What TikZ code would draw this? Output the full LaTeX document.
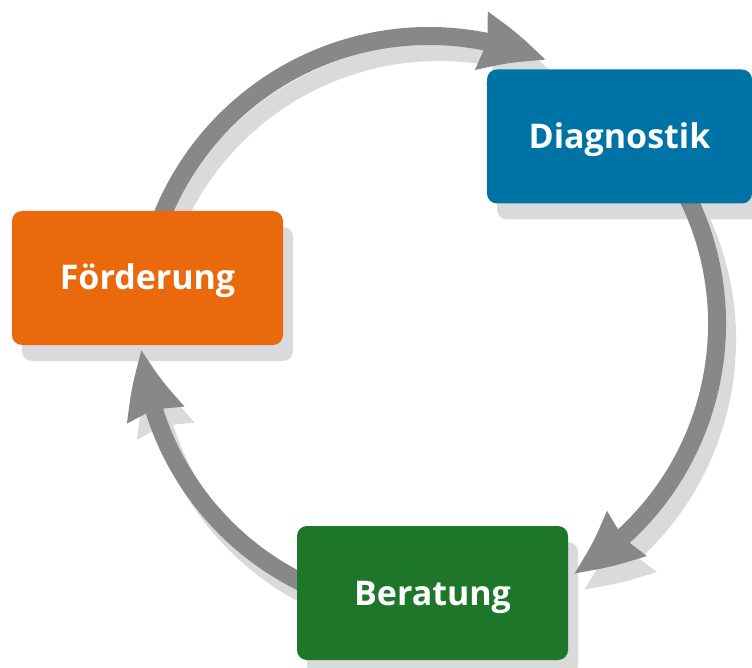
\documentclass[tikz,border=0pt]{standalone}
\usepackage{fontspec}
\setmainfont{Open Sans}
\usetikzlibrary{arrows.meta,bending}
\definecolor{arrowgray}{HTML}{87888A}
\definecolor{shadowgray}{HTML}{D9DADB}
\definecolor{diagblue}{HTML}{0073A6}
\definecolor{foerdorange}{HTML}{EA690C}
\definecolor{beratgreen}{HTML}{1E7629}
\tikzset{
  boxbase/.style={rectangle, rounded corners=10pt, inner sep=0pt, minimum height=134pt},
  cyclebox/.style={boxbase, fill=#1, text=white, text height=24pt, text depth=0pt, font=\bfseries\fontsize{34}{40}\selectfont},
  shadowbox/.style={boxbase, fill=shadowgray},
  cyclearrow/.style={draw=#1, line width=18pt, -{Stealth[length=66pt,width=55pt,inset=4pt,bend,color=#1]}},
}
\begin{document}
\begin{tikzpicture}[x=1pt,y=-1pt]
\useasboundingbox (0,0) rectangle (752,668);
\coordinate (c) at (429,324);
\coordinate (cs) at (439,340);
% box shadows
\node[shadowbox, minimum width=265pt] (diagS) at (629.5,152.5) {};
\node[shadowbox, minimum width=271pt] (foerdS) at (157.5,294) {};
\node[shadowbox, minimum width=271pt] (beratS) at (442.5,609) {};
% arrow shadows
\draw[cyclearrow=shadowgray] ([shift={(201:288)}]cs) arc[start angle=201, end angle=294, radius=288];
\draw[cyclearrow=shadowgray] ([shift={(-30:288)}]cs) arc[start angle=-30, end angle=60, radius=288];
\draw[cyclearrow=shadowgray] ([shift={(112:288)}]cs) arc[start angle=112, end angle=175, radius=288];
% arrows
\draw[cyclearrow=arrowgray] ([shift={(201:288)}]c) arc[start angle=201, end angle=294, radius=288];
\draw[cyclearrow=arrowgray] ([shift={(-30:288)}]c) arc[start angle=-30, end angle=60, radius=288];
\draw[cyclearrow=arrowgray] ([shift={(112:288)}]c) arc[start angle=112, end angle=175, radius=288];
% boxes
\node[cyclebox=diagblue, minimum width=265pt] (diag) at (619.5,136.5) {Diagnostik};
\node[cyclebox=foerdorange, minimum width=271pt] (foerd) at (147.5,278) {Förderung};
\node[cyclebox=beratgreen, minimum width=271pt] (berat) at (432.5,593) {Beratung};
\end{tikzpicture}
\end{document}
